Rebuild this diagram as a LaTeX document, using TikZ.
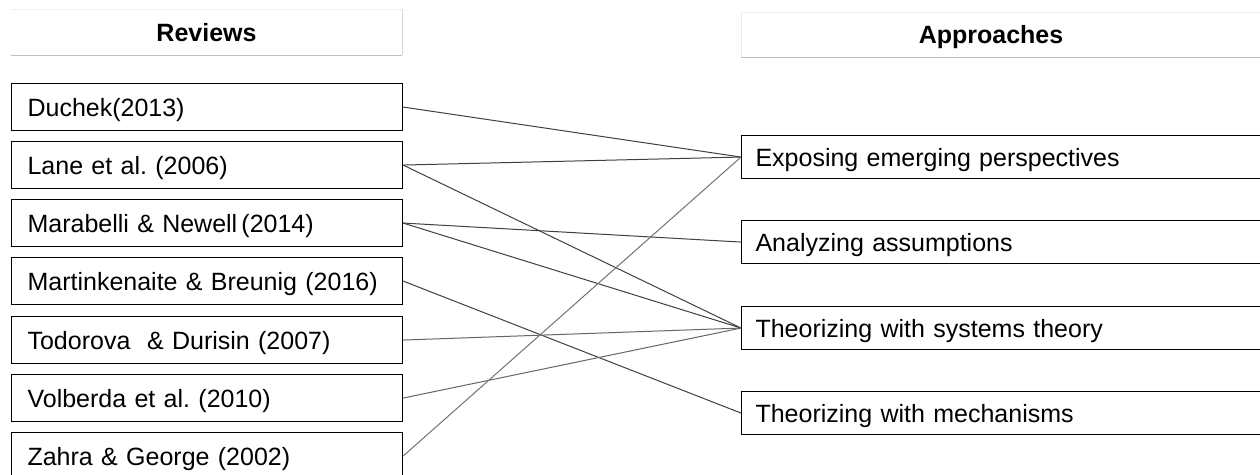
\documentclass[tikz,border=0pt]{standalone}
\usepackage{fontspec}
\setmainfont{Liberation Sans}
\frenchspacing
\begin{document}
\begin{tikzpicture}[x=1pt,y=-1pt,
  revbox/.style={draw=black, line width=1.1pt, fill=white, anchor=north west,
    minimum width=391pt, minimum height=47pt, inner xsep=16pt, inner ysep=0pt,
    text width=359pt, text height=22pt, text depth=4pt, align=left,
    font=\fontsize{25}{28}\selectfont},
  appbox/.style={draw=black, line width=1.1pt, fill=white, anchor=north west,
    minimum width=540pt, minimum height=43pt, inner xsep=14pt, inner ysep=0pt,
    text width=512pt, text height=22pt, text depth=4pt, align=left,
    font=\fontsize{25}{28}\selectfont},
  headtext/.style={font=\fontsize{25}{28}\selectfont\bfseries, inner sep=0pt, anchor=base},
  link/.style={draw=black!75, line width=1pt}]
\useasboundingbox (0,0) rectangle (1260,474);
\fill[white] (0,0) rectangle (1260,474);
% headers
\draw[black!6, line width=1pt] (11,9) -- (402,9);
\draw[black!25, line width=1pt] (11,55) -- (402,55);
\draw[black!15, line width=1pt] (402,9) -- (402,55);
\node[headtext] (hrev) at (206.5,41.5) {Reviews};
\draw[black!6, line width=1pt] (741,12) -- (1270,12);
\draw[black!25, line width=1pt] (741,57) -- (1270,57);
\draw[black!8, line width=1pt] (741,12) -- (741,57);
\node[headtext] (happ) at (991,43.3) {Approaches};
% review boxes
\node[revbox] (duchek) at (11,83)  {Duchek(2013)};
\node[revbox] (lane)   at (11,141) {Lane et al. (2006)};
\node[revbox] (mara)   at (11,199) {Marabelli \& Newell\,(2014)};
\node[revbox] (mart)   at (11,257) {Martinkenaite \& Breunig (2016)};
\node[revbox] (todo)   at (11,316) {Todorova \ \& Durisin (2007)};
\node[revbox] (volb)   at (11,374) {Volberda et al. (2010)};
\node[revbox] (zahra)  at (11,432) {Zahra \& George (2002)};
% approach boxes
\node[appbox] (expo) at (741,135) {Exposing emerging perspectives};
\node[appbox] (anal) at (741,220) {Analyzing assumptions};
\node[appbox] (syst) at (741,306) {Theorizing with systems theory};
\node[appbox] (mech) at (741,391) {Theorizing with mechanisms};
% links
\draw[link] (duchek.east) -- (expo.west);
\draw[link] (lane.east) -- (expo.west);
\draw[link] (lane.east) -- (syst.west);
\draw[link] (mara.east) -- (anal.west);
\draw[link] (mara.east) -- (syst.west);
\draw[link] (mart.east) -- (mech.west);
\draw[link, draw=black!60] (todo.east) -- (syst.west);
\draw[link, draw=black!60] (volb.east) -- (syst.west);
\draw[link, draw=black!55] (zahra.east) -- (expo.west);
\end{tikzpicture}
\end{document}
